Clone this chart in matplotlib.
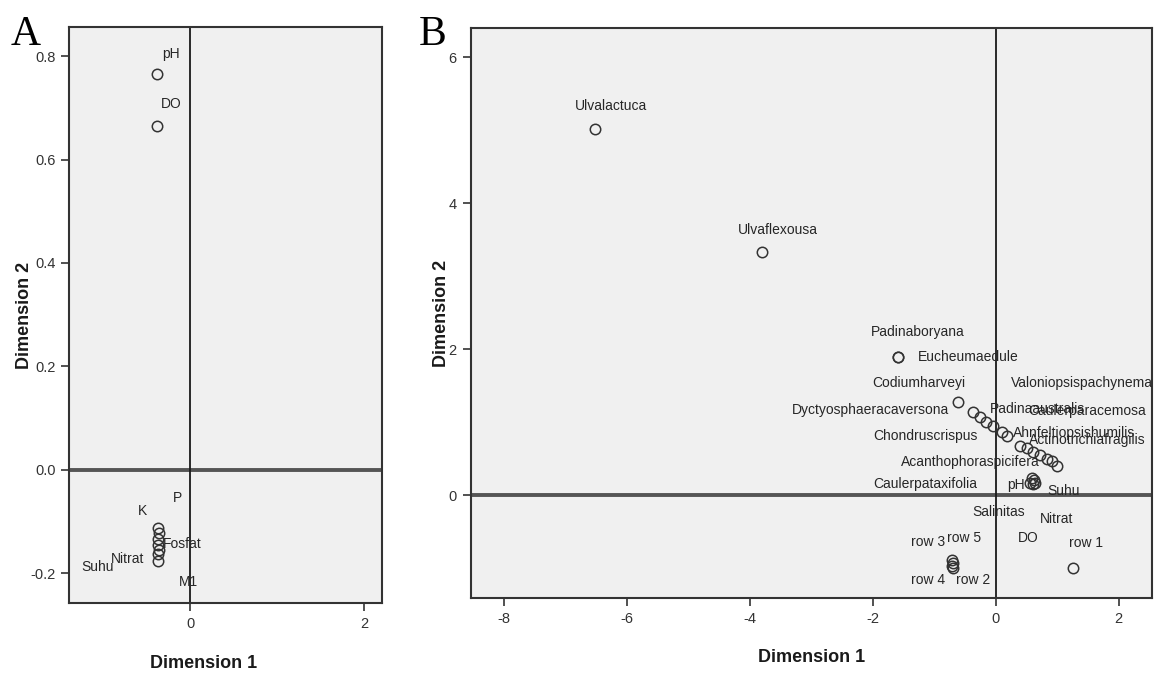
import matplotlib
matplotlib.use('Agg')
import matplotlib.pyplot as plt

plt.rcParams['font.family'] = ['Liberation Sans', 'DejaVu Sans']
plt.rcParams['axes.unicode_minus'] = False

## data panel A (variabel lingkungan)
a_nama = ['pH', 'DO', 'K', 'P', 'Fosfat', 'Salinitas', 'M1', 'Nitrat', 'Suhu']
a_dim1 = [-0.376, -0.376, -0.364, -0.362, -0.366, -0.364, -0.362, -0.366, -0.364]
a_dim2 = [0.765, 0.665, -0.113, -0.122, -0.134, -0.145, -0.155, -0.164, -0.177]

## data panel B (spesies + variabel + row)
b_nama = ['Ulvalactuca', 'Ulvaflexousa', 'Padinaboryana', 'Eucheumaedule',
          'Codiumharveyi', 'Dyctyosphaeracaversona', 'Chondruscrispus',
          'Acanthophoraspicifera', 'Caulerpataxifolia', 'Padinaaustralis',
          'Valoniopsispachynema', 'Ahnfeltiopsishumilis', 'Caulerparacemosa',
          'Actinotrichiafragilis',
          'K', 'P', 'Fosfat', 'M1', 'pH', 'Suhu', 'Salinitas', 'Nitrat', 'DO',
          'row 1', 'row 2', 'row 3', 'row 4', 'row 5']
b_dim1 = [-6.51, -3.80, -1.59, -1.59,
          -0.61, -0.37, -0.25, -0.15, -0.04, 0.10, 0.18, 0.40, 0.51, 0.61,
          0.72, 0.83, 0.91, 0.99, 0.56, 0.64, 0.59, 0.62, 0.60,
          1.26, -0.70, -0.71, -0.71, -0.70]
b_dim2 = [5.02, 3.33, 1.89, 1.89,
          1.28, 1.14, 1.07, 1.00, 0.94, 0.87, 0.81, 0.67, 0.64, 0.59,
          0.55, 0.50, 0.46, 0.40, 0.17, 0.16, 0.23, 0.20, 0.15,
          -1.00, -1.00, -0.89, -0.97, -0.93]

## letak label (piksel dari titik, kiri-tengah teks); yang tidak ada = label tidak tampil
a_label = {'pH': (5, 20), 'DO': (4, 22), 'K': (-20, 17), 'P': (14, 35),
           'Fosfat': (5, -5), 'M1': (20, -32), 'Nitrat': (-47, -5),
           'Suhu': (-77, -6)}
b_label = {'Ulvalactuca': (-21, 23), 'Ulvaflexousa': (-24, 22),
           'Padinaboryana': (-27, 25), 'Eucheumaedule': (20, 0),
           'Codiumharveyi': (-86, 19), 'Dyctyosphaeracaversona': (-181, 2),
           'Chondruscrispus': (-107, -19), 'Acanthophoraspicifera': (-86, -40),
           'Caulerpataxifolia': (-120, -58), 'Padinaaustralis': (-12, 23),
           'Valoniopsispachynema': (4, 53), 'Ahnfeltiopsishumilis': (-7, 13),
           'Caulerparacemosa': (1, 37), 'Actinotrichiafragilis': (-4, 12),
           'pH': (-23, -2), 'Suhu': (12, -8), 'Salinitas': (-60, -34),
           'Nitrat': (6, -39), 'DO': (-15, -54),
           'row 1': (-4, 25), 'row 2': (3, -12), 'row 3': (-41, 18),
           'row 4': (-41, -14), 'row 5': (-6, 25)}

siva = '#333333'


def panel(ax, nama, d1, d2, oznake, xlim, ylim, xt, yt, fmt, xlab_x):
    ax.set_facecolor('#F0F0F0')
    ax.axhline(0, color='#555555', lw=2.8, zorder=1)
    ax.axvline(0, color='#1a1a1a', lw=1.3, zorder=1)
    ax.plot(d1, d2, 'o', ms=7.5, mfc='none', mec=siva, mew=1.1, zorder=3)
    for n, x, y in zip(nama, d1, d2):
        if n not in oznake:
            continue
        ax.annotate(n, (x, y), xytext=oznake[n], textcoords='offset pixels',
                    ha='left', va='center', fontsize=10, color='#262626')
    ax.set_xlim(xlim)
    ax.set_ylim(ylim)
    ax.set_xticks(xt)
    ax.set_yticks(yt)
    ax.set_yticklabels([fmt % v for v in yt])
    for s in ax.spines.values():
        s.set_color(siva)
        s.set_linewidth(1.5)
    ax.tick_params(direction='out', length=6, width=1.2, color=siva,
                   labelcolor='#333333', labelsize=10.5, pad=4)
    ax.set_xlabel('Dimension 1', fontsize=13, fontweight='bold', color='#1a1a1a')
    ax.set_ylabel('Dimension 2', fontsize=13, fontweight='bold', color='#1a1a1a')
    ax.xaxis.set_label_coords(xlab_x, -0.09)


fig = plt.figure(figsize=(11.54, 6.83), dpi=100)
axA = fig.add_axes([0.0601, 0.1171, 0.2707, 0.8429])
axB = fig.add_axes([0.4078, 0.1245, 0.5909, 0.8346])

panel(axA, a_nama, a_dim1, a_dim2, a_label, (-1.387, 2.203), (-0.258, 0.856),
      [0, 2], [-0.2, 0.0, 0.2, 0.4, 0.6, 0.8], '%.1f', 0.431)
axA.yaxis.set_label_coords(-0.115, 0.5)

panel(axB, b_nama, b_dim1, b_dim2, b_label, (-8.54, 2.55), (-1.41, 6.40),
      [-8, -6, -4, -2, 0, 2], [0, 2, 4, 6], '%d', 0.5)
axB.yaxis.set_label_coords(-0.03, 0.5)

fig.text(11 / 1154, 1 - 45 / 683, 'A', family='Liberation Serif', fontsize=30,
         va='baseline', ha='left')
fig.text(419 / 1154, 1 - 45 / 683, 'B', family='Liberation Serif', fontsize=30,
         va='baseline', ha='left')

plt.savefig('out.png', dpi=100)
